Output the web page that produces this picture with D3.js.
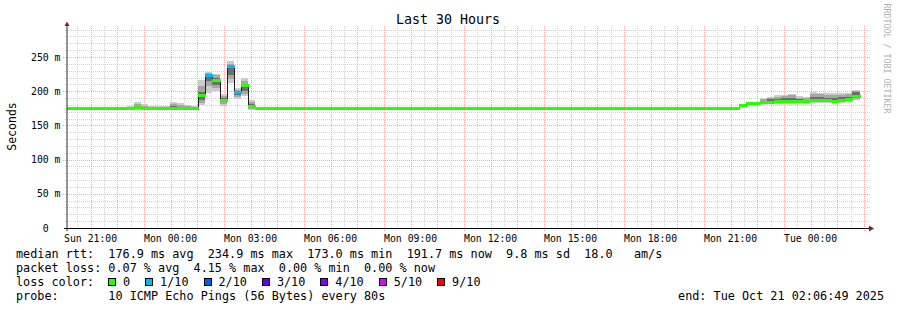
<!DOCTYPE html>
<html><head><meta charset="utf-8">
<script src="https://cdn.jsdelivr.net/npm/d3@7"></script>
<style>
body{margin:0;background:#fff;}
text{font-family:"DejaVu Sans Mono",monospace;white-space:pre;}
</style></head><body><svg id="c" width="897" height="310" xmlns="http://www.w3.org/2000/svg"></svg>
<script>
// ---------------- data ----------------
const chartTitle = "Last 30 Hours";
const yAxisTitle = "Seconds";
const watermark = "RRDTOOL / TOBI OETIKER";
const endTime = new Date(2025, 9, 21, 2, 6, 49);
const spanHours = 30;
const stepMinutes = 16;
const firstStep = new Date(2025, 9, 19, 19, 58);
const yMax = 292.4;                       // ms at top of plot
const yTickValues = [0, 50, 100, 150, 200, 250];
const yTickLabels = ["0  ", "50 m", "100 m", "150 m", "200 m", "250 m"];

// runs of 16-minute steps (step index from firstStep), values in ms
const runStart  = [0, 9, 10, 11, 12, 14, 15, 16, 17, 18, 19, 20, 21, 22, 23, 24, 25, 26, 27, 95, 96, 98, 99, 100, 101, 102, 103, 104, 105, 106, 107, 108, 109, 110, 111];
const runEnd    = [9, 10, 11, 12, 14, 15, 16, 17, 18, 19, 20, 21, 22, 23, 24, 25, 26, 27, 95, 96, 98, 99, 100, 101, 102, 103, 104, 105, 106, 107, 108, 109, 110, 111, 112];
const runMedian = [173.3, 173.3, 175.1, 173.3, 173.3, 173.3, 173.5, 173.3, 173.3, 173.3, 192.8, 221.9, 215.3, 185.7, 234.9, 198.0, 207.4, 176.7, 173.3, 178.5, 181.5, 183.0, 183.0, 183.5, 184.5, 184.5, 184.5, 183.5, 185.0, 185.0, 185.5, 184.0, 185.5, 186.5, 191.7];
const runLoss   = [0, 0, 0, 0, 0, 0, 0, 0, 0, 0, 0, 1, 0, 0, 1, 1, 0, 0, 0, 0, 0, 0, 0, 0, 0, 0, 0, 0, 0, 0, 0, 0, 0, 0, 0];
const runP1  = [173.0, 173.0, 173.0, 173.0, 173.0, 173.0, 173.0, 173.0, 173.0, 173.0, 180.3, 197.4, 199.7, 177.8, 212.0, 188.6, 192.4, 173.0, 173.0, 177.0, 180.0, 181.0, 181.0, 182.0, 182.0, 182.0, 182.5, 182.0, 183.0, 183.0, 183.0, 182.5, 183.0, 184.0, 187.6];
const runP2  = [173.1, 173.1, 174.0, 173.1, 173.1, 173.1, 173.2, 173.2, 173.1, 173.1, 183.0, 207.0, 205.0, 181.0, 218.0, 191.0, 196.0, 174.0, 173.1, 177.5, 180.5, 182.0, 182.5, 183.0, 183.0, 183.0, 183.5, 183.0, 184.0, 184.0, 184.5, 183.5, 184.5, 185.0, 189.0];
const runP4  = [173.2, 173.4, 176.0, 173.6, 173.4, 173.6, 174.5, 174.2, 173.8, 173.6, 187.0, 215.0, 209.0, 184.0, 224.0, 194.0, 201.0, 175.5, 173.2, 178.0, 181.0, 183.0, 184.0, 185.0, 185.0, 185.5, 185.0, 184.5, 186.0, 186.0, 186.5, 185.5, 186.5, 187.5, 191.0];
const runP7  = [173.6, 175.0, 179.0, 176.0, 175.0, 175.5, 178.0, 177.0, 175.5, 175.0, 199.0, 224.5, 219.0, 190.0, 237.0, 200.0, 211.0, 181.0, 173.6, 179.0, 182.0, 185.0, 188.0, 189.0, 190.0, 190.0, 188.0, 187.0, 191.0, 191.0, 190.0, 190.0, 191.0, 192.0, 199.5];
const runP9  = [174.0, 176.5, 181.0, 179.0, 176.5, 177.5, 181.0, 180.0, 178.0, 177.0, 208.0, 226.0, 223.0, 193.0, 240.0, 202.0, 215.0, 184.0, 174.0, 179.5, 182.5, 188.0, 190.0, 192.0, 193.0, 194.0, 190.0, 190.0, 196.0, 195.5, 195.0, 194.0, 195.0, 196.0, 201.0];
const runP10 = [174.4, 178.5, 183.5, 181.0, 178.0, 179.0, 184.0, 183.0, 180.0, 179.0, 215.8, 227.5, 225.6, 196.3, 243.6, 204.7, 219.3, 186.6, 174.4, 180.0, 183.0, 190.0, 191.5, 195.0, 195.0, 196.5, 192.5, 192.0, 198.5, 198.0, 197.5, 197.0, 197.0, 198.0, 202.0];

const lossLabels = ["0", "1/10", "2/10", "3/10", "4/10", "5/10", "9/10"];
const lossColors = ["#26ff00", "#00b8ff", "#0059ff", "#5e00ff", "#7e00ff", "#dd00ff", "#ff0000"];
const lossBreaks = [1, 2, 3, 4, 5, 9];

const legendRtt  = "median rtt:  176.9 ms avg  234.9 ms max  173.0 ms min  191.7 ms now  9.8 ms sd  18.0   am/s";
const legendLoss = "packet loss: 0.07 % avg  4.15 % max  0.00 % min  0.00 % now";
const legendLossTitle = "loss color:";
const legendProbe = "probe:       10 ICMP Echo Pings (56 Bytes) every 80s";
const legendEnd = "end: Tue Oct 21 02:06:49 2025";

// ---------------- drawing ----------------
const W = 897, H = 310;
const plotL = 67, plotR = 867, plotT = 28, plotB = 228;
const startTime = new Date(+endTime - spanHours * 3600e3);
const x = d3.scaleTime().domain([startTime, endTime]).range([plotL, plotR]);
const y = d3.scaleLinear().domain([0, yMax]).range([plotB, plotT]);
const stepTime = k => new Date(+firstStep + k * stepMinutes * 60e3);
const lossColor = d3.scaleThreshold().domain(lossBreaks).range(lossColors);
const px = v => Math.round(v);

const svg = d3.select("#c");
svg.append("rect").attr("width", W).attr("height", H).attr("fill", "#ffffff");

const defs = svg.append("defs");
defs.append("clipPath").attr("id", "plot").append("rect")
  .attr("x", plotL).attr("y", plotT).attr("width", plotR - plotL).attr("height", plotB - plotT);

// grid
const grid = svg.append("g").attr("shape-rendering", "crispEdges").attr("stroke-dasharray", "1,1").attr("fill", "none");
const minorColor = "#d2d2d2", majorColor = "#f5a8a8";
const yMinor = y.ticks(30).filter(v => v > 0 && !yTickValues.includes(v));
grid.selectAll(".hmin").data(yMinor).join("line")
  .attr("x1", plotL - 2).attr("x2", plotR + 3)
  .attr("y1", d => px(y(d)) + 0.5).attr("y2", d => px(y(d)) + 0.5)
  .attr("stroke", minorColor);
const hourTicks = d3.timeHour.range(startTime, endTime);
const halfTicks = d3.timeMinute.every(30).range(startTime, endTime).filter(t => t.getMinutes() !== 0);
grid.selectAll(".vmin").data(halfTicks).join("line")
  .attr("x1", d => px(x(d)) + 0.5).attr("x2", d => px(x(d)) + 0.5)
  .attr("y1", plotT - 2).attr("y2", plotB + 2)
  .attr("stroke", minorColor);
grid.selectAll(".hmaj").data(yTickValues.filter(v => v > 0)).join("line")
  .attr("x1", plotL - 4).attr("x2", plotR + 3)
  .attr("y1", d => px(y(d)) + 0.5).attr("y2", d => px(y(d)) + 0.5)
  .attr("stroke", majorColor);
grid.selectAll(".vmaj").data(hourTicks).join("line")
  .attr("x1", d => px(x(d)) + 0.5).attr("x2", d => px(x(d)) + 0.5)
  .attr("y1", plotT - 2).attr("y2", plotB + 3)
  .attr("stroke", majorColor);

// data
const runs = runStart.map((s, i) => ({
  t0: stepTime(s), t1: stepTime(runEnd[i]), m: runMedian[i], loss: runLoss[i],
  p1: runP1[i], p2: runP2[i], p4: runP4[i], p7: runP7[i], p9: runP9[i], p10: runP10[i]
}));
const data = svg.append("g").attr("clip-path", "url(#plot)").attr("shape-rendering", "crispEdges");
const smoke = [["p1", "p10", "#cbcbcb"], ["p2", "p9", "#a6a6a6"], ["p4", "p7", "#6e6e6e"]];
smoke.forEach(([lo, hi, col]) => {
  data.append("g").selectAll("rect").data(runs).join("rect")
    .attr("x", d => px(x(d.t0))).attr("width", d => px(x(d.t1)) - px(x(d.t0)))
    .attr("y", d => px(y(d[hi]))).attr("height", d => Math.max(0, px(y(d[lo])) - px(y(d[hi]))))
    .attr("fill", col);
});
// median line (step)
const medPts = runs.map(d => [d.t0, d.m]);
medPts.push([runs[runs.length - 1].t1, runs[runs.length - 1].m]);
data.append("path")
  .attr("d", d3.line().x(d => px(x(d[0])) + 0.5).y(d => px(y(d[1])) - 0.5).curve(d3.curveStepAfter)(medPts))
  .attr("fill", "none").attr("stroke", "#202020").attr("stroke-width", 1);
// loss coloured median band
data.append("g").selectAll("rect").data(runs).join("rect")
  .attr("x", d => px(x(d.t0))).attr("width", d => px(x(d.t1)) - px(x(d.t0)) + 1)
  .attr("y", d => px(y(d.m)) - 2).attr("height", 3)
  .attr("fill", d => lossColor(d.loss));

// axes
svg.append("line").attr("x1", plotL - 3).attr("x2", plotR + 3).attr("y1", plotB + 0.5).attr("y2", plotB + 0.5)
  .attr("stroke", "#000").attr("shape-rendering", "crispEdges");
svg.append("line").attr("x1", plotL).attr("x2", plotL).attr("y1", plotB + 3).attr("y2", plotT - 3)
  .attr("stroke", "#2a2a2a");
svg.append("path").attr("d", `M${plotL - 2.5},${plotT - 2}L${plotL + 2.5},${plotT - 2}L${plotL},${plotT - 6.5}Z`).attr("fill", "#7f1f1f");
svg.append("path").attr("d", `M${plotR + 2},${plotB - 2.5}L${plotR + 2},${plotB + 3.5}L${plotR + 7},${plotB + 0.5}Z`).attr("fill", "#7f1f1f");

// tick labels
const fmt = d3.timeFormat("%a %H:%M");
svg.append("g").selectAll("text").data(d3.timeHour.every(3).range(startTime, endTime)).join("text")
  .attr("x", d => x(d)).attr("y", 241.5).attr("text-anchor", "middle")
  .attr("font-size", "9.8px").attr("fill", "#000").text(d => fmt(d));
svg.append("g").selectAll("text").data(yTickValues).join("text")
  .attr("x", 60.5).attr("y", d => y(d) + 3.6).attr("text-anchor", "end")
  .attr("font-size", "9.8px").attr("fill", "#000").text((d, i) => yTickLabels[i]);

// titles
svg.append("text").attr("x", 448).attr("y", 24).attr("text-anchor", "middle")
  .attr("font-size", "13.3px").attr("fill", "#000").text(chartTitle);
svg.append("text").attr("transform", "translate(15.5,126.5) rotate(-90)").attr("text-anchor", "middle")
  .attr("font-size", "11.5px").attr("fill", "#000").text(yAxisTitle);
svg.append("text").attr("transform", "translate(884,3.5) rotate(90)").attr("text-anchor", "start")
  .attr("font-size", "8.3px").attr("fill", "#b0b0b0").text(watermark);

// legend
const lf = "11.8px", cw = 7.1, lx = 16;
const leg = svg.append("g").attr("font-size", lf).attr("fill", "#000");
leg.append("text").attr("x", lx).attr("y", 258.3).text(legendRtt);
leg.append("text").attr("x", lx).attr("y", 272.3).text(legendLoss);
leg.append("text").attr("x", lx).attr("y", 286.3).text(legendLossTitle);
leg.append("text").attr("x", lx).attr("y", 300.3).text(legendProbe);
leg.append("text").attr("x", 884).attr("y", 300.3).attr("text-anchor", "end").text(legendEnd);
let bx = 108.5;
lossLabels.forEach((lab, i) => {
  leg.append("rect").attr("x", bx).attr("y", 278.5).attr("width", 7).attr("height", 7)
    .attr("fill", lossColors[i]).attr("stroke", "#000").attr("stroke-width", 1).attr("shape-rendering", "crispEdges");
  leg.append("text").attr("x", bx + 14.5).attr("y", 286.3).text(lab);
  bx += 30 + lab.length * cw;
});
</script></body></html>
